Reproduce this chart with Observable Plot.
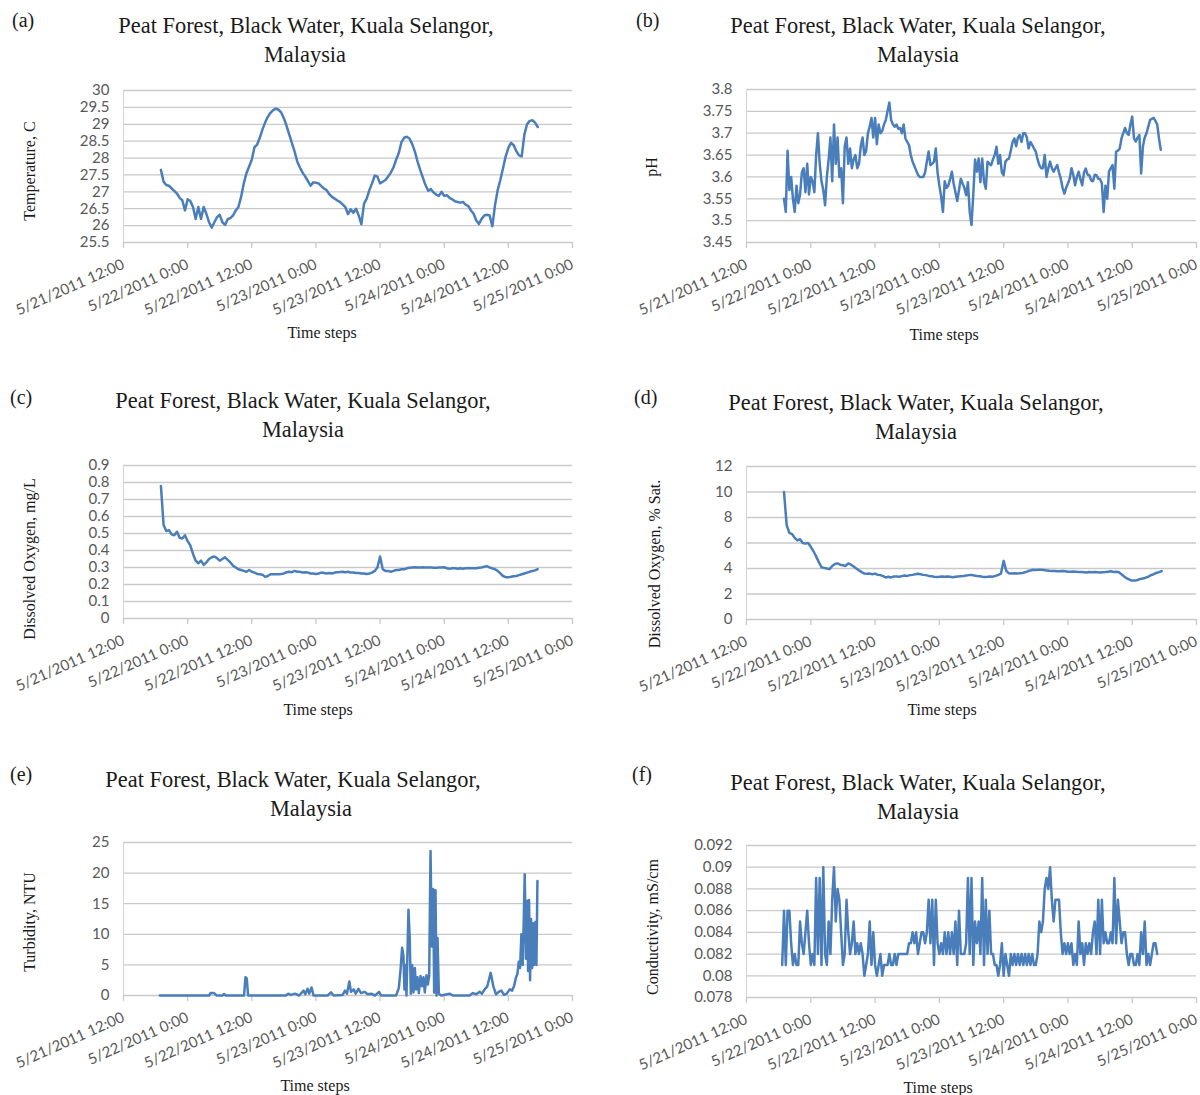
<!DOCTYPE html>
<html>
<head>
<meta charset="utf-8">
<script src="https://cdn.jsdelivr.net/npm/d3@7"></script>
<script src="https://cdn.jsdelivr.net/npm/@observablehq/plot@0.6"></script>
<style>
  html, body { margin: 0; padding: 0; background: #fff; }
  #page { position: relative; width: 1200px; height: 1095px; overflow: hidden; background: #fff;
          font-family: "Liberation Serif", "Times New Roman", serif; color: #1a1a1a; }
  .tl { position: absolute; width: 600px; height: 30px; line-height: 30px; text-align: center;
        font-size: 22.4px; white-space: nowrap; }
  .pl { position: absolute; height: 30px; line-height: 30px; font-size: 20px; }
  .yl { position: absolute; font-size: 16px; white-space: nowrap; transform: translate(-50%, -50%) rotate(-90deg); }
  .xl { position: absolute; font-size: 16px; white-space: nowrap; transform: translate(-50%, -50%); }
  .chart { position: absolute; }
</style>
</head>
<body>
<div id="page"></div>
<script>
// ---------------- data ----------------
const T0 = Date.UTC(2011, 4, 21, 12); // 5/21/2011 12:00
const HOUR = 3600e3;
const xTickHours = [0, 12, 24, 36, 48, 60, 72, 84];
const xTickLabels = ["5/21/2011 12:00", "5/22/2011 0:00", "5/22/2011 12:00", "5/23/2011 0:00",
                     "5/23/2011 12:00", "5/24/2011 0:00", "5/24/2011 12:00", "5/25/2011 0:00"];

// half-hourly readings starting 5/21/2011 19:00 (hours after 5/21 12:00)
const halfHourStart = 7;
const halfHourStep = 0.5;

const temperature = [
  27.65, 27.3, 27.2, 27.18, 27.1, 27.03, 26.95, 26.82, 26.75, 26.45,
  26.78, 26.73, 26.55, 26.2, 26.55, 26.2, 26.55, 26.35, 26.1, 25.94,
  26.1, 26.25, 26.32, 26.1, 26.02, 26.19, 26.22, 26.3, 26.45, 26.55,
  26.85, 27.25, 27.55, 27.75, 27.95, 28.32, 28.4, 28.6, 28.85, 29.05,
  29.22, 29.34, 29.42, 29.46, 29.43, 29.35, 29.18, 28.95, 28.7, 28.45,
  28.2, 27.9, 27.72, 27.57, 27.45, 27.32, 27.18, 27.28, 27.27, 27.25,
  27.17, 27.1, 27.05, 26.93, 26.85, 26.8, 26.74, 26.7, 26.63, 26.55,
  26.34, 26.48, 26.38, 26.5, 26.3, 26.04, 26.65, 26.8, 27.05, 27.25,
  27.48, 27.45, 27.25, 27.3, 27.35, 27.45, 27.57, 27.72, 27.95, 28.15,
  28.47, 28.6, 28.63, 28.58, 28.42, 28.2, 27.9, 27.65, 27.42, 27.2,
  27.03, 27.08, 26.98, 26.92, 26.88, 27.0, 26.88, 26.9, 26.82, 26.78,
  26.72, 26.7, 26.68, 26.7, 26.62, 26.58, 26.45, 26.35, 26.15, 26.05,
  26.2, 26.3, 26.32, 26.3, 25.98, 26.6, 27.05, 27.35, 27.7, 28.05,
  28.3, 28.45, 28.38, 28.2, 28.08, 28.05, 28.7, 29.0, 29.1, 29.12,
  29.05, 28.92
];

// pH every 20 minutes starting 5/21/2011 19:00
const pHStart = 7;
const pHStep = 1 / 3;
const pH = [
  3.55, 3.52, 3.66, 3.57, 3.60, 3.55, 3.52, 3.58, 3.54, 3.56,
  3.61, 3.62, 3.565, 3.63, 3.56, 3.60, 3.59, 3.565, 3.65, 3.70,
  3.63, 3.59, 3.57, 3.535, 3.60, 3.64, 3.69, 3.59, 3.72, 3.63,
  3.69, 3.60, 3.62, 3.54, 3.67, 3.69, 3.63, 3.665, 3.62, 3.64,
  3.65, 3.62, 3.63, 3.67, 3.69, 3.65, 3.66, 3.70, 3.715, 3.735,
  3.69, 3.735, 3.675, 3.72, 3.70, 3.705, 3.72, 3.73, 3.75, 3.77,
  3.73, 3.72, 3.715, 3.72, 3.71, 3.712, 3.70, 3.72, 3.688, 3.68,
  3.673, 3.65, 3.635, 3.625, 3.615, 3.605, 3.60, 3.60, 3.60, 3.61,
  3.635, 3.658, 3.627, 3.63, 3.635, 3.665, 3.61, 3.58, 3.555, 3.52,
  3.59, 3.575, 3.58, 3.595, 3.612, 3.585, 3.565, 3.545, 3.57, 3.596,
  3.585, 3.575, 3.558, 3.588, 3.52, 3.49, 3.56, 3.64, 3.612, 3.642,
  3.588, 3.642, 3.59, 3.573, 3.635, 3.63, 3.627, 3.64, 3.65, 3.669,
  3.63, 3.65, 3.61, 3.604, 3.635, 3.64, 3.642, 3.66, 3.68, 3.688,
  3.67, 3.69, 3.696, 3.68, 3.70, 3.70, 3.69, 3.665, 3.68, 3.673,
  3.665, 3.658, 3.64, 3.627, 3.62, 3.62, 3.65, 3.60, 3.62, 3.635,
  3.62, 3.612, 3.62, 3.627, 3.61, 3.596, 3.575, 3.562, 3.575, 3.585,
  3.596, 3.62, 3.605, 3.581, 3.60, 3.612, 3.595, 3.581, 3.61, 3.619,
  3.605, 3.604, 3.592, 3.59, 3.605, 3.604, 3.596, 3.595, 3.585, 3.52,
  3.58, 3.55, 3.612, 3.62, 3.627, 3.573, 3.658, 3.66, 3.665, 3.688,
  3.70, 3.712, 3.70, 3.696, 3.72, 3.738, 3.688, 3.681, 3.69, 3.696,
  3.608, 3.67, 3.69, 3.70, 3.715, 3.73, 3.733, 3.735, 3.728, 3.72,
  3.688, 3.662
];

const dissolvedOxygenMgL = [
  0.78, 0.55, 0.515, 0.52, 0.495, 0.49, 0.51, 0.475, 0.47, 0.49,
  0.455, 0.43, 0.38, 0.34, 0.325, 0.34, 0.315, 0.33, 0.35, 0.36,
  0.365, 0.355, 0.34, 0.35, 0.36, 0.345, 0.33, 0.31, 0.30, 0.29,
  0.285, 0.28, 0.275, 0.285, 0.275, 0.27, 0.262, 0.26, 0.258, 0.245,
  0.25, 0.26, 0.26, 0.26, 0.26, 0.262, 0.265, 0.272, 0.275, 0.272,
  0.28, 0.275, 0.275, 0.27, 0.272, 0.27, 0.265, 0.265, 0.262, 0.265,
  0.27, 0.268, 0.265, 0.268, 0.265, 0.27, 0.272, 0.273, 0.275, 0.272,
  0.275, 0.27, 0.27, 0.268, 0.268, 0.265, 0.265, 0.262, 0.265, 0.27,
  0.28, 0.30, 0.365, 0.29, 0.28, 0.28, 0.275, 0.28, 0.285, 0.285,
  0.29, 0.29, 0.295, 0.298, 0.3, 0.302, 0.3, 0.3, 0.302, 0.3,
  0.3, 0.3, 0.298, 0.298, 0.3, 0.3, 0.302, 0.295, 0.292, 0.295,
  0.295, 0.293, 0.295, 0.293, 0.295, 0.295, 0.295, 0.296, 0.296, 0.298,
  0.3, 0.305, 0.308, 0.3, 0.295, 0.29, 0.28, 0.265, 0.25, 0.243,
  0.242, 0.245, 0.248, 0.25, 0.255, 0.26, 0.265, 0.27, 0.275, 0.28,
  0.283, 0.29
];

const dissolvedOxygenSat = [
  10.0, 7.4, 6.8, 6.7, 6.4, 6.2, 6.3, 6.0, 5.95, 6.0,
  5.7, 5.35, 4.95, 4.5, 4.1, 4.05, 4.0, 3.95, 4.2, 4.35,
  4.4, 4.3, 4.25, 4.2, 4.4, 4.3, 4.15, 4.0, 3.85, 3.72,
  3.6, 3.58, 3.6, 3.55, 3.6, 3.5, 3.48, 3.4, 3.3, 3.35,
  3.3, 3.38, 3.38, 3.35, 3.4, 3.45, 3.42, 3.48, 3.5, 3.55,
  3.58, 3.55, 3.5, 3.48, 3.42, 3.4, 3.35, 3.33, 3.35, 3.38,
  3.35, 3.38, 3.35, 3.32, 3.36, 3.38, 3.4, 3.42, 3.45, 3.48,
  3.5, 3.45, 3.42, 3.4, 3.35, 3.33, 3.35, 3.38, 3.36, 3.42,
  3.5, 3.6, 4.6, 3.8, 3.62, 3.6, 3.62, 3.6, 3.62, 3.65,
  3.7, 3.78, 3.85, 3.9, 3.88, 3.9, 3.9, 3.88, 3.85, 3.82,
  3.8, 3.8, 3.78, 3.78, 3.8, 3.78, 3.75, 3.75, 3.76, 3.75,
  3.72, 3.72, 3.7, 3.68, 3.72, 3.7, 3.72, 3.7, 3.68, 3.7,
  3.72, 3.75, 3.78, 3.72, 3.75, 3.7, 3.55, 3.38, 3.22, 3.12,
  3.05, 3.05, 3.1, 3.18, 3.22, 3.28, 3.35, 3.48, 3.55, 3.65,
  3.72, 3.8
];

// turbidity read at irregular times (hours after 5/21 12:00)
const turbidityHours = [
  6.81, 16.0, 16.31, 16.94, 17.44, 18.5, 18.81, 19.12, 22.56, 22.81,
  23.06, 23.31, 30.37, 30.81, 31.31, 32.06, 32.87, 33.69, 34.0, 34.44,
  34.75, 35.18, 35.56, 38.19, 38.81, 39.31, 41.0, 41.44, 41.81, 42.25,
  42.56, 43.06, 43.44, 43.94, 44.44, 45.06, 45.69, 46.31, 47.06, 47.81,
  48.19, 51.0, 51.5, 51.81, 52.12, 52.37, 52.56, 52.75, 52.94, 53.31,
  53.56, 53.75, 54.0, 54.25, 54.5, 54.75, 55.0, 55.25, 55.56, 55.81,
  56.12, 56.37, 56.69, 56.94, 57.19, 57.44, 57.69, 57.94, 58.12, 58.37,
  58.56, 58.75, 59.0, 59.44, 61.0, 61.62, 64.75, 65.37, 66.0, 66.62,
  67.06, 67.56, 68.06, 68.69, 69.19, 69.69, 70.19, 70.69, 71.19, 71.69,
  72.25, 72.69, 73.06, 73.44, 73.69, 73.94, 74.19, 74.44, 74.69, 74.87,
  75.06, 75.31, 75.5, 75.69, 75.87, 76.06, 76.25, 76.44, 76.62, 76.81,
  77.06, 77.25, 77.44
];
const turbidityValues = [
  0, 0, 0.4, 0.4, 0, 0, 0.25, 0, 0, 3.0,
  2.8, 0, 0, 0.3, 0.1, 0.3, 0, 0.8, 0.2, 1.1,
  0.3, 1.3, 0, 0, 0.5, 0, 0.1, 0.8, 0.3, 2.3,
  0.6, 1.0, 0.3, 1.1, 0.4, 0.6, 0.2, 0.3, 0, 0.6,
  0, 0, 1.2, 4.0, 7.8, 6.5, 1.0, 5.0, 0, 14.0,
  9.0, 0.3, 5.0, 0.5, 4.5, 1.0, 3.0, 0.4, 3.2, 1.5,
  3.0, 0.5, 3.3, 1.8, 3.2, 23.6, 8.0, 17.4, 0.5, 17.2,
  0, 9.4, 0.3, 0, 0.3, 0, 0, 0.4, 0.2, 0.6,
  0.3, 1.0, 1.5, 3.7, 1.5, 0.2, 0.6, 0.8, 0.1, 0.3,
  1.0, 0.8, 1.5, 3.0, 3.5, 5.5, 4.5, 10.0, 5.0, 12.0,
  19.8, 6.0, 15.5, 4.0, 15.6, 2.5, 12.5, 4.5, 11.8, 5.0,
  12.0, 5.0, 18.7
];

// conductivity every 20 minutes starting 5/21/2011 18:40
const conductivityStart = 6 + 40 / 60;
const conductivityStep = 1 / 3;
const conductivity = [
  0.081, 0.086, 0.081, 0.086, 0.086, 0.083, 0.081, 0.082, 0.081, 0.081,
  0.085, 0.083, 0.082, 0.084, 0.086, 0.083, 0.081, 0.082, 0.081, 0.089,
  0.082, 0.089, 0.081, 0.090, 0.082, 0.081, 0.085, 0.082, 0.087, 0.090,
  0.085, 0.088, 0.087, 0.084, 0.081, 0.082, 0.087, 0.084, 0.082, 0.083,
  0.085, 0.082, 0.083, 0.082, 0.083, 0.082, 0.080, 0.081, 0.082, 0.085,
  0.081, 0.084, 0.081, 0.080, 0.081, 0.082, 0.080, 0.081, 0.081, 0.081,
  0.082, 0.081, 0.081, 0.082, 0.081, 0.082, 0.082, 0.082, 0.082, 0.082,
  0.082, 0.083, 0.083, 0.084, 0.083, 0.084, 0.082, 0.083, 0.084, 0.084,
  0.083, 0.084, 0.087, 0.083, 0.087, 0.081, 0.087, 0.083, 0.082, 0.083,
  0.082, 0.084, 0.082, 0.084, 0.082, 0.084, 0.082, 0.085, 0.081, 0.086,
  0.082, 0.082, 0.082, 0.083, 0.089, 0.082, 0.089, 0.081, 0.085, 0.083,
  0.085, 0.082, 0.089, 0.081, 0.087, 0.082, 0.086, 0.082, 0.082, 0.081,
  0.081, 0.080, 0.081, 0.083, 0.080, 0.082, 0.081, 0.080, 0.082, 0.081,
  0.082, 0.081, 0.082, 0.081, 0.082, 0.081, 0.082, 0.081, 0.082, 0.081,
  0.082, 0.081, 0.081, 0.082, 0.085, 0.084, 0.085, 0.088, 0.089, 0.088,
  0.090, 0.087, 0.085, 0.087, 0.087, 0.087, 0.084, 0.082, 0.083, 0.082,
  0.083, 0.082, 0.083, 0.081, 0.082, 0.081, 0.085, 0.082, 0.083, 0.081,
  0.083, 0.082, 0.083, 0.082, 0.084, 0.085, 0.082, 0.087, 0.082, 0.087,
  0.083, 0.084, 0.083, 0.083, 0.084, 0.083, 0.089, 0.083, 0.087, 0.085,
  0.083, 0.084, 0.084, 0.082, 0.081, 0.082, 0.082, 0.081, 0.081, 0.082,
  0.081, 0.084, 0.082, 0.085, 0.081, 0.082, 0.081, 0.082, 0.083, 0.083, 0.082
];

// y tick values per panel
const yTicksA = [25.5, 26, 26.5, 27, 27.5, 28, 28.5, 29, 29.5, 30];
const yTicksB = [3.45, 3.5, 3.55, 3.6, 3.65, 3.7, 3.75, 3.8];
const yTicksC = [0, 0.1, 0.2, 0.3, 0.4, 0.5, 0.6, 0.7, 0.8, 0.9];
const yTicksD = [0, 2, 4, 6, 8, 10, 12];
const yTicksE = [0, 5, 10, 15, 20, 25];
const yTicksF = [0.078, 0.08, 0.082, 0.084, 0.086, 0.088, 0.09, 0.092];

const panelLetters = ["(a)", "(b)", "(c)", "(d)", "(e)", "(f)"];
const titleLine1 = "Peat Forest, Black Water, Kuala Selangor,";
const titleLine2 = "Malaysia";
const yLabels = ["Temperature, C", "pH", "Dissolved Oxygen, mg/L", "Dissolved Oxygen, % Sat.",
                 "Turbidity, NTU", "Conductivity, mS/cm"];
const xLabel = "Time steps";

// ---------------- helpers ----------------
const toDate = h => new Date(T0 + h * HOUR);
const regular = (vals, start, step) => vals.map((v, i) => ({t: toDate(start + i * step), v}));
const xDomain = [toDate(0), toDate(84)];
const xTicks = xTickHours.map((h, i) => ({t: toDate(h), label: xTickLabels[i]}));

const page = document.getElementById("page");
const LINE = "#4a7ebb";
const GRID = "#c9c9c9";
const TICKTXT = "#595959";

function addDiv(cls, text, css) {
  const d = document.createElement("div");
  d.className = cls;
  d.textContent = text;
  Object.assign(d.style, css);
  page.appendChild(d);
}

function panel(cfg) {
  const H = 270;
  const y0 = cfg.yTicks[0], y1 = cfg.yTicks[cfg.yTicks.length - 1];
  const plotH = H - cfg.m[2] - cfg.m[3];
  const tickLen = (y1 - y0) * 6 / plotH; // 6px tick marks below the axis
  const plot = Plot.plot({
    width: 600, height: H,
    marginLeft: cfg.m[0], marginRight: cfg.m[1], marginTop: cfg.m[2], marginBottom: cfg.m[3],
    x: {type: "utc", domain: xDomain, axis: null},
    y: {domain: [y0, y1], axis: null},
    style: {fontFamily: "Lato, sans-serif", fontSize: "15px", color: TICKTXT, background: "transparent", overflow: "visible"},
    marks: [
      Plot.ruleY(cfg.yTicks, {stroke: GRID, strokeWidth: 1.3}),
      Plot.ruleX([xDomain[0]], {y1: y0, y2: y1, stroke: "#d4d4d4", strokeWidth: 1}),
      Plot.ruleX(xTicks, {x: "t", y1: y0, y2: y0 - tickLen, stroke: GRID, strokeWidth: 1.3}),
      Plot.text(cfg.yTicks, {y: d => d, text: d => String(d), frameAnchor: "left", textAnchor: "end",
                             dx: -14, fill: TICKTXT, fontSize: 15}),
      Plot.text(xTicks, {x: "t", text: "label", frameAnchor: "bottom", rotate: -24, textAnchor: "end",
                         lineAnchor: "middle", dx: 0, dy: 21, fill: TICKTXT, fontSize: 15}),
      Plot.line(cfg.data, {x: "t", y: "v", stroke: LINE, strokeWidth: 2.5, strokeLinejoin: "round"})
    ]
  });
  plot.classList.add("chart");
  plot.style.left = cfg.left + "px";
  plot.style.top = cfg.top + "px";
  page.appendChild(plot);

  addDiv("pl", cfg.letter, {left: cfg.letterX + "px", top: (cfg.letterY - 15) + "px"});
  addDiv("tl", titleLine1, {left: (cfg.t1[0] - 300) + "px", top: (cfg.t1[1] - 15) + "px"});
  addDiv("tl", titleLine2, {left: (cfg.t2[0] - 300) + "px", top: (cfg.t2[1] - 15) + "px"});
  addDiv("yl", cfg.yLabel, {left: cfg.yl[0] + "px", top: cfg.yl[1] + "px"});
  addDiv("xl", xLabel, {left: cfg.xl[0] + "px", top: cfg.xl[1] + "px"});
}

panel({letter: panelLetters[0], letterX: 12, letterY: 20, t1: [306, 26], t2: [305, 55],
       left: 0, top: 70, m: [123, 28, 20, 98], yTicks: yTicksA,
       data: regular(temperature, halfHourStart, halfHourStep),
       yLabel: yLabels[0], yl: [30, 171], xl: [322, 333]});

panel({letter: panelLetters[1], letterX: 636, letterY: 20, t1: [918, 26], t2: [918, 55],
       left: 600, top: 70, m: [146, 4, 19, 98], yTicks: yTicksB,
       data: regular(pH, pHStart, pHStep),
       yLabel: yLabels[1], yl: [652, 167], xl: [944, 335]});

panel({letter: panelLetters[2], letterX: 10, letterY: 397, t1: [303, 401], t2: [303, 430],
       left: 0, top: 445, m: [123, 28, 20, 97], yTicks: yTicksC,
       data: regular(dissolvedOxygenMgL, halfHourStart, halfHourStep),
       yLabel: yLabels[2], yl: [30, 559], xl: [318, 710]});

panel({letter: panelLetters[3], letterX: 634, letterY: 397, t1: [916, 403], t2: [916, 432],
       left: 600, top: 445, m: [146, 4, 21, 96], yTicks: yTicksD,
       data: regular(dissolvedOxygenSat, halfHourStart, halfHourStep),
       yLabel: yLabels[3], yl: [655, 564], xl: [942, 710]});

panel({letter: panelLetters[4], letterX: 10, letterY: 774, t1: [293, 780], t2: [311, 809],
       left: 0, top: 820, m: [123, 28, 22, 95], yTicks: yTicksE,
       data: turbidityHours.map((h, i) => ({t: toDate(h), v: turbidityValues[i]})),
       yLabel: yLabels[4], yl: [30, 922], xl: [315, 1086]});

panel({letter: panelLetters[5], letterX: 632, letterY: 774, t1: [918, 783], t2: [918, 812],
       left: 600, top: 820, m: [146, 4, 25, 93], yTicks: yTicksF,
       data: regular(conductivity, conductivityStart, conductivityStep),
       yLabel: yLabels[5], yl: [653, 927], xl: [938, 1088]});
</script>
</body>
</html>
